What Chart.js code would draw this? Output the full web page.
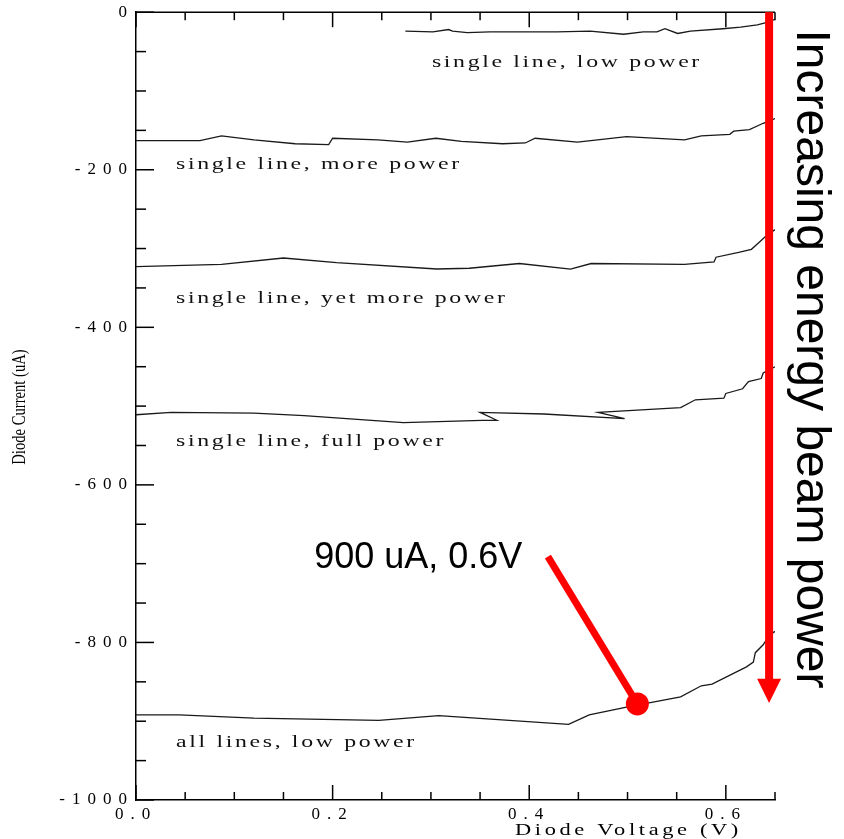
<!DOCTYPE html>
<html><head><meta charset="utf-8">
<script src="https://cdn.jsdelivr.net/npm/chart.js@4"></script>
<style>html,body{margin:0;padding:0;background:#fff}</style>
</head><body>
<canvas id="c" width="844" height="839"></canvas>
<script>
// ---- data (Diode Voltage V, Diode Current uA) ----
const lowPowerX = [0.274, 0.302, 0.318, 0.322, 0.337, 0.360, 0.394, 0.428, 0.462, 0.496, 0.516, 0.530, 0.538, 0.551, 0.564, 0.597, 0.615, 0.632, 0.642, 0.650];
const lowPowerY = [-24, -25, -22, -24, -26, -25, -25, -25, -24, -28, -25, -25, -21, -27, -24, -21, -19, -16, -13, -9];

const morePowerX = [0.000, 0.065, 0.087, 0.120, 0.162, 0.196, 0.200, 0.246, 0.276, 0.305, 0.331, 0.373, 0.396, 0.406, 0.449, 0.499, 0.558, 0.575, 0.604, 0.608, 0.624, 0.638, 0.650];
const morePowerY = [-163, -163, -157, -162, -167, -168, -160, -162, -165, -160, -164, -167, -166, -160, -165, -158, -162, -157, -155, -151, -149, -141, -135];

const yetMorePowerX = [0.000, 0.087, 0.150, 0.204, 0.306, 0.339, 0.390, 0.442, 0.463, 0.558, 0.588, 0.590, 0.613, 0.626, 0.634, 0.640, 0.650];
const yetMorePowerY = [-323, -320, -312, -318, -326, -325, -319, -326, -319, -320, -317, -311, -305, -301, -292, -285, -276];

const fullPowerX = [0.000, 0.036, 0.120, 0.171, 0.272, 0.352, 0.367, 0.350, 0.415, 0.497, 0.470, 0.554, 0.569, 0.598, 0.600, 0.617, 0.623, 0.636, 0.638, 0.650];
const fullPowerY = [-511, -508, -509, -512, -521, -518, -518, -508, -510, -516, -508, -502, -492, -490, -484, -478, -469, -465, -458, -450];

const allLowX = [0.000, 0.044, 0.120, 0.247, 0.308, 0.440, 0.461, 0.499, 0.554, 0.575, 0.586, 0.621, 0.628, 0.630, 0.638, 0.644, 0.650];
const allLowY = [-892, -892, -896, -899, -893, -904, -892, -882, -869, -855, -853, -831, -825, -813, -803, -791, -786];

const curveLabels = ['single line, low power', 'single line, more power', 'single line, yet more power', 'single line, full power', 'all lines, low power'];
const xTickLabels = ['0.0', '0.2', '0.4', '0.6'];
const yTickLabels = ['0', '-200', '-400', '-600', '-800', '-1000'];
const markerPoint = {x: 0.510, y: -878};
const markerText = '900 uA, 0.6V';
const arrowText = 'Increasing energy beam power';

const toPts = (xs, ys) => xs.map((x, i) => ({x, y: ys[i]}));
const isMult = (v, s) => Math.abs(v / s - Math.round(v / s)) < 1e-6;

const mkSet = (label, xs, ys) => ({
  label, data: toPts(xs, ys), showLine: true, borderColor: '#1a1a1a', borderWidth: 1.3,
  pointRadius: 0, tension: 0, fill: false
});

const SERIF = '"Liberation Serif", "Times New Roman", serif';

// draw text stretched horizontally (the reference uses wide serif lettering)
function wideText(ctx, s, x, y, sx, spacing) {
  ctx.save();
  ctx.translate(x, y); ctx.scale(sx, 1);
  ctx.letterSpacing = spacing + 'px';
  ctx.fillText(s, 0, 0);
  ctx.restore();
}

const decor = {
  id: 'decor',
  beforeDraw(chart) { chart.ctx.letterSpacing = '7px'; },
  afterDraw(chart) {
    const ctx = chart.ctx, xs = chart.scales.x, ys = chart.scales.y, a = chart.chartArea;
    const X = v => xs.getPixelForValue(v), Y = v => ys.getPixelForValue(v);
    ctx.save();
    ctx.letterSpacing = '0px';
    ctx.strokeStyle = '#000'; ctx.lineWidth = 1.5;
    const line = (x1, y1, x2, y2) => { ctx.beginPath(); ctx.moveTo(x1, y1); ctx.lineTo(x2, y2); ctx.stroke(); };
    line(a.left, a.top, a.right, a.top);
    xs.ticks.forEach(t => {
      const px = X(t.value), L = isMult(t.value, 0.2) ? 15 : 8;
      line(px, a.bottom, px, a.bottom - L);
      line(px, a.top, px, a.top + L);
    });
    ys.ticks.forEach(t => {
      const py = Y(t.value), L = isMult(t.value, 200) ? 18 : 10;
      line(a.left, py, a.left + L, py);
    });

    // curve labels
    ctx.fillStyle = '#111';
    ctx.font = '17px ' + SERIF;
    ctx.textAlign = 'left'; ctx.textBaseline = 'middle';
    const lpos = [[0.301, -63.5], [0.0407, -193], [0.0407, -364], [0.0407, -544.5], [0.0407, -926.5]];
    curveLabels.forEach((s, i) => wideText(ctx, s, X(lpos[i][0]), Y(lpos[i][1]), 1.4, 1.9));

    // axis titles
    ctx.fillStyle = '#000';
    ctx.font = '16px ' + SERIF;
    ctx.textAlign = 'left'; ctx.textBaseline = 'alphabetic';
    wideText(ctx, 'Diode Voltage (V)', 515, 835, 1.4, 2.6);
    ctx.letterSpacing = '0px';
    ctx.save();
    ctx.translate(25, 407); ctx.rotate(-Math.PI / 2); ctx.scale(0.77, 1);
    ctx.font = '19px ' + SERIF; ctx.textAlign = 'center';
    ctx.fillText('Diode Current (uA)', 0, 0);
    ctx.restore();

    // red annotations
    ctx.fillStyle = '#ff0000'; ctx.strokeStyle = '#ff0000';
    const ax = X(0.644);
    ctx.fillRect(ax - 4, a.top, 8, Y(-848) - a.top);
    ctx.beginPath();
    ctx.moveTo(ax - 12, Y(-846)); ctx.lineTo(ax + 12, Y(-846)); ctx.lineTo(ax, Y(-877)); ctx.closePath(); ctx.fill();

    ctx.lineWidth = 7; ctx.lineCap = 'butt';
    line(X(0.419), Y(-691), X(markerPoint.x), Y(markerPoint.y));
    ctx.beginPath(); ctx.arc(X(markerPoint.x), Y(markerPoint.y), 11.5, 0, Math.PI * 2); ctx.fill();

    ctx.fillStyle = '#000';
    ctx.font = '36px "Liberation Sans", Arial, sans-serif';
    ctx.textAlign = 'right'; ctx.textBaseline = 'alphabetic';
    ctx.fillText(markerText, X(0.393), Y(-706));

    ctx.save();
    ctx.translate(797, 359); ctx.rotate(Math.PI / 2);
    ctx.font = '48px "Liberation Sans", Arial, sans-serif'; ctx.textAlign = 'center';
    ctx.fillText(arrowText, 0, 0);
    ctx.restore();
    ctx.restore();
  }
};

new Chart(document.getElementById('c'), {
  type: 'scatter',
  data: {
    datasets: [
      mkSet(curveLabels[0], lowPowerX, lowPowerY),
      mkSet(curveLabels[1], morePowerX, morePowerY),
      mkSet(curveLabels[2], yetMorePowerX, yetMorePowerY),
      mkSet(curveLabels[3], fullPowerX, fullPowerY),
      mkSet(curveLabels[4], allLowX, allLowY)
    ]
  },
  options: {
    responsive: false, animation: false, devicePixelRatio: 1,
    layout: {padding: {left: 0, right: 69, top: 12, bottom: 0}},
    plugins: {legend: {display: false}, tooltip: {enabled: false}},
    scales: {
      x: {
        type: 'linear', min: 0, max: 0.65,
        grid: {display: false, drawTicks: false},
        border: {display: true, color: '#000', width: 1.5},
        afterFit: s => { s.height = 39; },
        ticks: {
          stepSize: 0.05, autoSkip: false, maxRotation: 0, padding: 4, color: '#000',
          font: {family: SERIF, size: 17},
          callback: v => { const i = xTickLabels.indexOf(Number(v).toFixed(1)); return isMult(v, 0.2) && i >= 0 ? xTickLabels[i] : ''; }
        }
      },
      y: {
        type: 'linear', min: -1000, max: 0,
        grid: {display: false, drawTicks: false},
        border: {display: true, color: '#000', width: 1.5},
        afterFit: s => { s.width = 136; },
        ticks: {
          stepSize: 50, autoSkip: false, padding: 2, color: '#000',
          font: {family: SERIF, size: 17},
          callback: v => { const i = yTickLabels.indexOf(String(Math.round(v))); return isMult(v, 200) && i >= 0 ? yTickLabels[i] : ''; }
        }
      }
    }
  },
  plugins: [decor]
});
</script>
</body></html>
